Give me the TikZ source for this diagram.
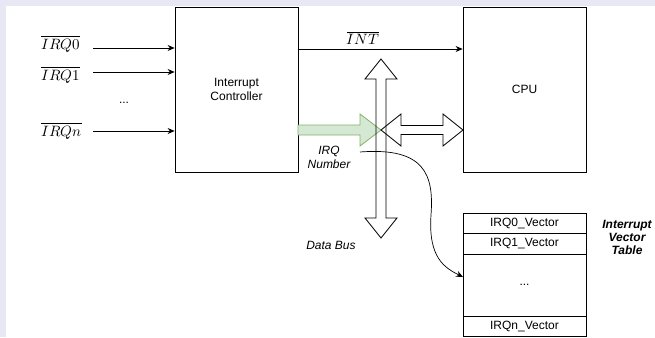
\documentclass[tikz,border=0pt]{standalone}
\usepackage{fontspec}
\usepackage{unicode-math}
\setmainfont{Liberation Sans}
\setmathfont{Latin Modern Math}
\usetikzlibrary{arrows.meta, positioning}
\definecolor{pagebg}{HTML}{E8E8F4}
\definecolor{numfill}{HTML}{D5E8D4}
\definecolor{numline}{HTML}{82B366}

\begin{document}
\begin{tikzpicture}[
    x=1pt, y=-1pt,
    every node/.style={font=\fontsize{12}{14}\selectfont},
    unit/.style={draw, line width=0.8pt, minimum width=123pt, minimum height=165pt, align=center},
    vrow/.style={draw, line width=0.8pt, outer sep=0pt, minimum width=123pt},
    sym/.style={font=\fontsize{15}{18}\selectfont, inner sep=0pt},
    note/.style={font=\fontsize{12}{14}\selectfont\itshape, align=center},
    sig/.style={line width=0.8pt, -{Stealth[length=7pt, width=6pt]}},
    bus/.style={draw, line width=0.8pt, line join=miter},
]
\fill[pagebg] (0,0) rectangle (655,337);
\fill[white] (6,6) rectangle (655,337);
\useasboundingbox (0,0) rectangle (655,337);

% the two blocks
\node[unit] (ic) at (236.5,89.5) {Interrupt\\Controller};
\node[unit] (cpu) at (524.5,89.5) {CPU};

% request lines into the controller
\foreach \n/\y/\b/\name in {0/48/49/{IRQ0}, 1/72/80/{IRQ1}, n/131/136/{IRQn}}{
    \node[sym, anchor=base west] (irq\n) at (41,\b) {$\overline{\name}$};
    \coordinate (in\n) at (93,\y);
    \draw[sig] (in\n) -- (in\n -| ic.west);
}
\node (irqdots) at (124,103) {...};

% interrupt line to the cpu
\draw[sig] (ic.east |- 0,49) -- (cpu.west |- 0,49);
\node[sym, anchor=base] (intlab) at (363,45) {$\overline{INT}$};

% vector number put on the bus
\draw[numline, fill=numfill, line width=0.8pt]
    (298,125) -- (360,125) -- (360,114) -- (381,130) -- (360,146) -- (360,135) -- (298,135) -- cycle;
\node[note] (numlab) at (329,157) {IRQ\\Number};

% data bus
\draw[bus] (381,59) -- (397,79) -- (386,79) -- (386,218) -- (397,218) -- (381,238)
    -- (365,218) -- (376,218) -- (376,79) -- (365,79) -- cycle;
\draw[bus] (381,130) -- (401,114) -- (401,125.5) -- (443,125.5) -- (443,114) -- (463,130)
    -- (443,146) -- (443,134.5) -- (401,134.5) -- (401,146) -- cycle;
\node[note] (buslab) at (331,245) {Data Bus};

% vector table
\node[vrow, minimum height=20pt] (v0) at (524.5,223) {IRQ0\_Vector};
\node[vrow, minimum height=21pt, below=0pt of v0] (v1) {IRQ1\_Vector};
\node[vrow, minimum height=62pt, below=0pt of v1] (vdots) {...};
\node[vrow, minimum height=20pt, below=0pt of vdots] (vn) {IRQn\_Vector};
\node[note, font=\fontsize{12}{13}\selectfont\bfseries\itshape] (ivtlab) at (627,237) {Interrupt\\Vector\\Table};

% number selects an entry
\coordinate (numsrc) at (360,152);
\draw[line width=0.7pt, -{Stealth[length=7pt, width=6pt]}] (numsrc)
    .. controls (425,147) and (434,175) .. (431,215)
    .. controls (428,258) and (445,268) .. ([yshift=8pt]vdots.west);
\end{tikzpicture}
\end{document}
